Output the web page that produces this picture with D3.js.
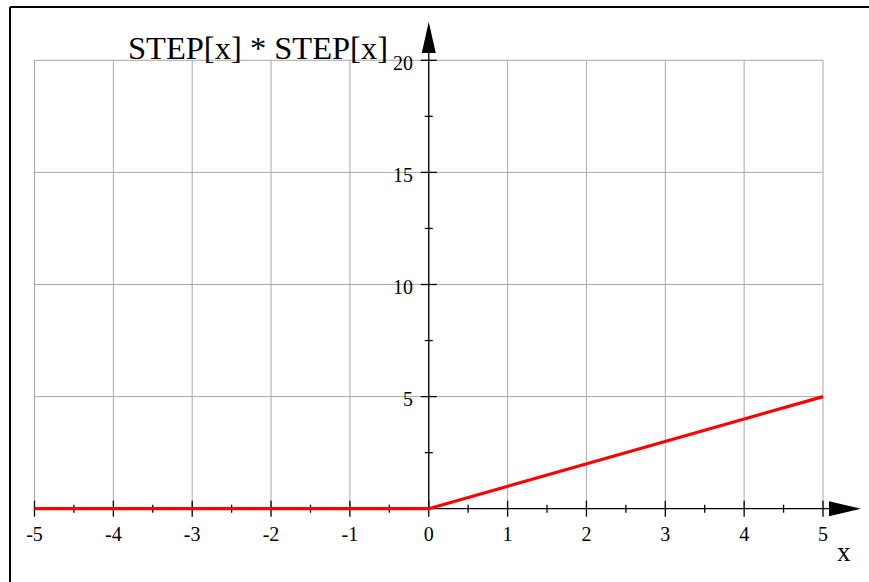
<!DOCTYPE html>
<html><head><meta charset="utf-8">
<script src="https://cdn.jsdelivr.net/npm/d3@7"></script>
<style>body{margin:0;background:#fff;}svg{display:block;}</style>
</head><body>
<svg id="c" width="869" height="582"></svg>
<script>
const title = "STEP[x] * STEP[x]";
const xLabel = "x";
const xTicks = [-5, -4, -3, -2, -1, 0, 1, 2, 3, 4, 5];
const yTicks = [5, 10, 15, 20];
const xMinor = [-4.5, -3.5, -2.5, -1.5, -0.5, 0.5, 1.5, 2.5, 3.5, 4.5];
const yMinor = [2.5, 7.5, 12.5, 17.5];
const seriesX = [-5, 0, 5];
const seriesY = [0, 0, 5];

const svg = d3.select("#c");
const x = d3.scaleLinear().domain([-5, 5]).range([34.5, 823]);
const y = d3.scaleLinear().domain([0, 20]).range([508.7, 60.3]);
const font = "'Liberation Serif', 'Times New Roman', serif";

// frame
svg.append("line").attr("x1", 10).attr("x2", 869).attr("y1", 7).attr("y2", 7).attr("stroke", "#000").attr("stroke-width", 2);
svg.append("line").attr("x1", 10).attr("x2", 10).attr("y1", 7).attr("y2", 582).attr("stroke", "#000").attr("stroke-width", 2);

// grid
const grid = svg.append("g").attr("stroke", "#a8a8a8").attr("stroke-width", 1);
xTicks.forEach(t => grid.append("line").attr("x1", x(t)).attr("x2", x(t)).attr("y1", y(20)).attr("y2", y(0)));
yTicks.forEach(t => grid.append("line").attr("x1", x(-5)).attr("x2", x(5)).attr("y1", y(t)).attr("y2", y(t)));

// axes
const ax = svg.append("g").attr("stroke", "#000").attr("stroke-width", 1.3);
ax.append("line").attr("x1", x(-5)).attr("x2", 832).attr("y1", y(0)).attr("y2", y(0));
ax.append("line").attr("x1", x(0)).attr("x2", x(0)).attr("y1", y(0)).attr("y2", 52);
svg.append("path").attr("d", `M${x(0)},22 L${x(0)-7},53 L${x(0)+7},53 Z`).attr("fill", "#000");
svg.append("path").attr("d", `M861,${y(0)} L829,${y(0)-7.5} L829,${y(0)+7.5} Z`).attr("fill", "#000");

xTicks.forEach(t => ax.append("line").attr("x1", x(t)).attr("x2", x(t)).attr("y1", y(0)-8).attr("y2", y(0)+8));
xMinor.forEach(t => ax.append("line").attr("x1", x(t)).attr("x2", x(t)).attr("y1", y(0)-4).attr("y2", y(0)+4));
yTicks.forEach(t => ax.append("line").attr("x1", x(0)-8).attr("x2", x(0)+8).attr("y1", y(t)).attr("y2", y(t)));
yMinor.forEach(t => ax.append("line").attr("x1", x(0)-4).attr("x2", x(0)+4).attr("y1", y(t)).attr("y2", y(t)));

// tick labels
const tl = svg.append("g").attr("font-family", font).attr("font-size", 20).attr("fill", "#000");
xTicks.forEach(t => tl.append("text").attr("x", x(t)).attr("y", 541).attr("text-anchor", "middle").text(t));
yTicks.forEach(t => tl.append("text").attr("x", 413).attr("y", y(t) + 9.5).attr("text-anchor", "end").text(t));

// titles
svg.append("text").attr("x", 128).attr("y", 59).attr("font-family", font).attr("font-size", 32.5).text(title);
svg.append("text").attr("x", 837).attr("y", 561).attr("font-family", font).attr("font-size", 27).text(xLabel);

// series
const line = d3.line().x((d, i) => x(seriesX[i])).y(d => y(d));
svg.append("path").datum(seriesY).attr("d", line).attr("fill", "none").attr("stroke", "#ff0000").attr("stroke-width", 3.2);
</script>
</body></html>
